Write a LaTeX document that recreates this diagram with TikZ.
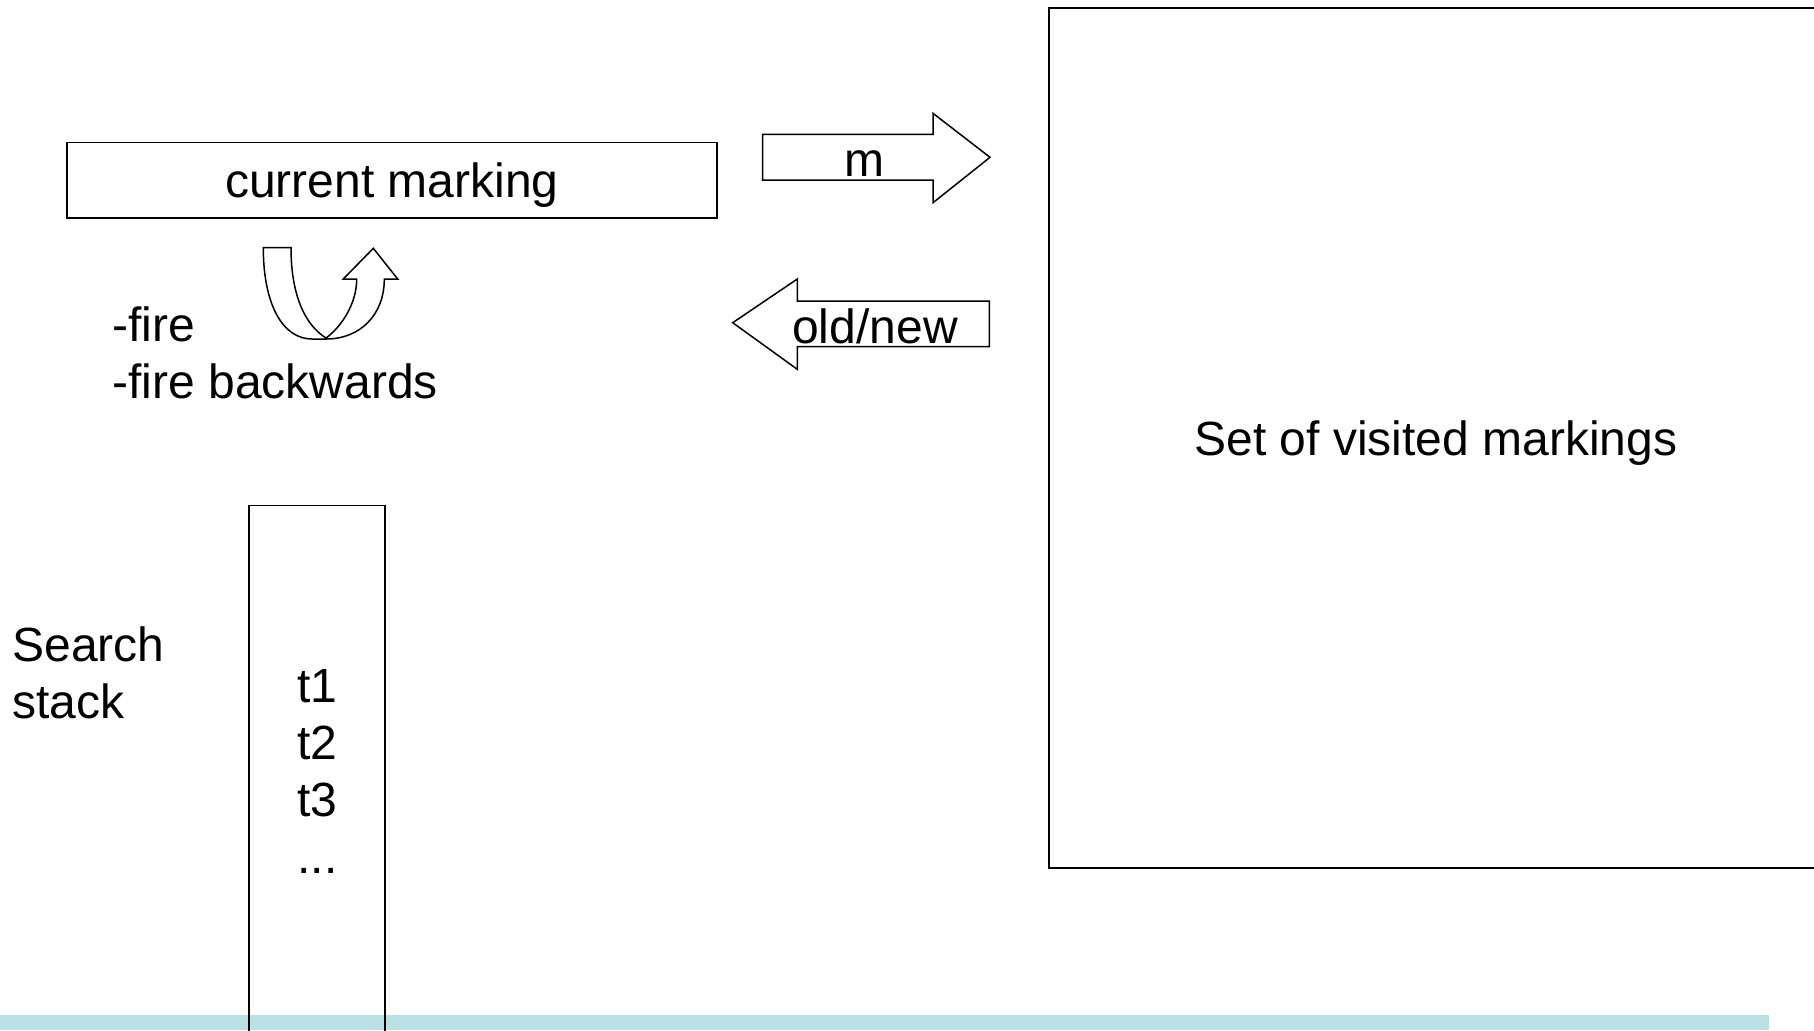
\documentclass[tikz,border=0pt]{standalone}
\usepackage{fontspec}
\setmainfont{Liberation Sans}
\definecolor{bandc}{RGB}{187,224,227}
\begin{document}
\begin{tikzpicture}[x=0.5pt,y=-0.5pt,
  lbl/.style={font=\fontsize{24}{28.5}\selectfont, inner sep=0pt},
  box/.style={draw, line width=0.75pt, inner sep=0pt},
  blockarrow/.style={draw, fill=white, line width=0.75pt, line join=miter}]
\useasboundingbox (0,0) rectangle (1814,1030);
% bottom band
\fill[bandc] (0,1014.6) rectangle (1769,1030);
% boxes
\node[box, minimum width=325pt, minimum height=37.75pt, lbl, text depth=0pt] (cur) at (392,180) {current marking};
\node[box, line width=1.2pt, minimum width=387pt, minimum height=430pt, lbl, text depth=0pt] (visited) at (1436,438) {Set of visited markings};
\node[box, minimum width=68pt, minimum height=297.2pt] (stack) at (317,802.8) {};
% block arrow m
\draw[blockarrow] (762.7,134.3) -- (933,134.3) -- (933,113.3) -- (990,157.3) -- (933,202.7) -- (933,180) -- (762.7,180) -- cycle;
\node[lbl] (mlbl) at (864,163.5) {m};
% block arrow old/new
\draw[blockarrow] (989.3,301) -- (797.3,301) -- (797.3,279) -- (732.7,322.7) -- (797.3,369.3) -- (797.3,346.7) -- (989.3,346.7) -- cycle;
\node[lbl] (onlbl) at (875,326) {old/new};
% U-turn arrow
\draw[line width=0.75pt, fill=white, line join=miter]
  (263.3,247.7) -- (291,247.7)
  .. controls (291,295) and (305,325) .. (326,338)
  .. controls (340,328) and (356.7,305) .. (356.7,279)
  -- (343.3,279) -- (373.3,248.3) -- (397.7,279) -- (384.3,279)
  .. controls (384.3,315) and (360,339) .. (326,339)
  -- (312,339)
  .. controls (283,339) and (263.3,305) .. (263.3,247.7) -- cycle;
% labels
\node[lbl, align=left, anchor=west] (fire) at (112,352.5) {-fire\\-fire backwards};
\node[lbl, align=left, anchor=west] (search) at (12,672.5) {Search\\stack};
\node[lbl, align=left, anchor=west] (items) at (297,771) {t1\\t2\\t3\\...};
\end{tikzpicture}
\end{document}
